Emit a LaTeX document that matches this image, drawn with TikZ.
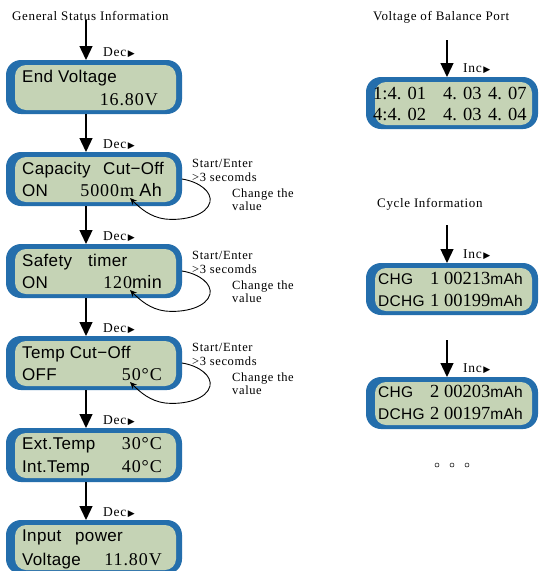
\documentclass[tikz,border=0pt]{standalone}
\usepackage{fontspec}
\setmainfont{Liberation Serif}
\newfontfamily\lser[LetterSpace=5]{Liberation Serif}
\newfontfamily\rser{Liberation Serif}
\newfontfamily\lsan[LetterSpace=2]{Liberation Sans}
\newfontfamily\lsym{DejaVu Sans}
\usetikzlibrary{arrows.meta}
\definecolor{lcdblue}{RGB}{36,110,172}
\definecolor{lcdgreen}{RGB}{197,211,181}
\newcommand\tri{{\lsym\fontsize{9}{9}\selectfont\,▶}}
\newcommand\lcdbox[5]{%
  \node[lcdouter, minimum width=#4pt, minimum height=#5pt, anchor=north west] (#1) at (#2,#3) {};
  \fill[lcdgreen, rounded corners=11pt] ([xshift=9pt,yshift=-5pt]#1.north west) rectangle ([xshift=-6pt,yshift=4pt]#1.south east);
}
\newcommand\loopfor[2]{%
  \coordinate (#1e) at (130,#2+46);
  \draw[loopline] (#1.east) .. controls (200,#2+30) and (212,#2+40) .. (210,#2+50)
     .. controls (207,#2+63) and (185,#2+69) .. (165,#2+67)
     .. controls (150,#2+65) and (140,#2+56) .. (#1e);
  \node[note] (#1n1) at (192,#2+15) {Start/Enter};
  \node[note] (#1n2) at (192,#2+29) {>3 secomds};
  \node[note] (#1n3) at (232,#2+45) {Change the};
  \node[note] (#1n4) at (232,#2+58) {value};
}
\begin{document}
\begin{tikzpicture}[x=1pt,y=-1pt,
  lcdouter/.style={fill=lcdblue, rounded corners=15pt, inner sep=0pt, outer sep=0pt},
  flow/.style={line width=1.3pt, -{Triangle[width=13pt,length=14pt]}},
  loopline/.style={line width=0.9pt, -{Stealth[width=6pt,length=7pt]}},
  title/.style={font=\lser\fontsize{13}{15}\selectfont, anchor=base west, inner sep=0pt},
  tag/.style={font=\lser\fontsize{13.5}{15}\selectfont, anchor=base west, inner sep=0pt},
  lab/.style={font=\lsan\fontsize{17}{20}\selectfont, anchor=base west, inner sep=0pt},
  num/.style={font=\lser\fontsize{18}{20}\selectfont, anchor=base east, inner sep=0pt},
  rnum/.style={font=\rser\fontsize{18.5}{21}\selectfont, anchor=base west, inner sep=0pt},
  rlab/.style={font=\lsan\fontsize{15.5}{18}\selectfont, anchor=base west, inner sep=0pt},
  note/.style={font=\lser\fontsize{12.5}{14}\selectfont, anchor=base west, inner sep=0pt},
  dot/.style={circle, draw, line width=0.5pt, inner sep=0pt, minimum size=4pt}]
\clip (0,0) rectangle (539,571);
\fill[white] (0,0) rectangle (539,571);

% ---------- left column ----------
\node[title] (gt) at (12,20) {General Status Information};

\lcdbox{b1}{6}{60}{176}{54}
\lcdbox{b2}{6}{152}{176}{54}
\lcdbox{b3}{6}{244}{176}{54}
\lcdbox{b4}{6}{336}{176}{54}
\lcdbox{b5}{6}{428}{176}{54}
\lcdbox{b6}{6}{520}{176}{54}

\foreach \b in {b1,b2,b3,b4,b5,b6}{
  \coordinate (\b a) at ([xshift=-8pt]\b.north);
  \coordinate (\b z) at ([xshift=-8pt]\b.south);
}
\draw[flow] (gt.south -| b1a) -- (b1a);
\draw[flow] (b1z) -- (b2a);
\draw[flow] (b2z) -- (b3a);
\draw[flow] (b3z) -- (b4a);
\draw[flow] (b4z) -- (b5a);
\draw[flow] (b5z) -- (b6a);

\node[tag] (d1) at (103,56) {Dec\tri};
\node[tag] (d2) at (103,148) {Dec\tri};
\node[tag] (d3) at (103,240) {Dec\tri};
\node[tag] (d4) at (103,332) {Dec\tri};
\node[tag] (d5) at (103,424) {Dec\tri};
\node[tag] (d6) at (103,516) {Dec\tri};

% box texts
\node[lab] (b1l1) at (22,82) {End Voltage};
\node[num] (b1l2) at (158,105) {16.80V};

\node[lab] (b2l1) at (22,174) {Capacity};
\node[lab] (b2l1b) at (103,174) {Cut−Off};
\node[lab] (b2l2) at (22,196) {ON};
\node[num] (b2l2b) at (162,196) {5000m {\lsan Ah}};

\node[lab] (b3l1) at (22,266) {Safety};
\node[lab] (b3l1b) at (88,266) {timer};
\node[lab] (b3l2) at (22,288) {ON};
\node[num] (b3l2b) at (162,288) {120{\lsan min}};

\node[lab] (b4l1) at (22,358) {Temp Cut−Off};
\node[lab] (b4l2) at (22,380) {OFF};
\node[num] (b4l2b) at (162,380) {50°C};

\node[lab] (b5l1) at (22,449) {Ext.Temp};
\node[num] (b5l1b) at (162,449) {30°C};
\node[lab] (b5l2) at (22,472) {Int.Temp};
\node[num] (b5l2b) at (162,472) {40°C};

\node[lab] (b6l1) at (22,541) {Input};
\node[lab] (b6l1b) at (75,541) {power};
\node[lab] (b6l2) at (22,565) {Voltage};
\node[num] (b6l2b) at (162,565) {11.80V};

% loops
\loopfor{b2}{152}
\loopfor{b3}{244}
\loopfor{b4}{336}

% ---------- right column ----------
\node[title] (vt) at (373,20) {Voltage of Balance Port};
\node[title] (ct) at (377,207) {Cycle Information};

\lcdbox{r1}{366}{77}{172}{52}
\lcdbox{r2}{366}{263}{172}{52}
\lcdbox{r3}{366}{377}{172}{52}

\coordinate (r1s) at (447,40);
\coordinate (r2s) at (447,225);
\coordinate (r3s) at (447,340);
\draw[flow] (r1s) -- (r1s |- r1.north);
\draw[flow] (r2s) -- (r2s |- r2.north);
\draw[flow] (r3s) -- (r3s |- r3.north);

\node[tag] (i1) at (463,72) {Inc\tri};
\node[tag] (i2) at (463,258) {Inc\tri};
\node[tag] (i3) at (463,372) {Inc\tri};

\node[rnum] (r1a) at (373,99) {1:4. 01};
\node[rnum] (r1b) at (443,99) {4. 03};
\node[rnum] (r1c) at (488,99) {4. 07};
\node[rnum] (r1d) at (373,120) {4:4. 02};
\node[rnum] (r1e) at (443,120) {4. 03};
\node[rnum] (r1f) at (488,120) {4. 04};

\node[rlab] (r2a) at (378,284) {CHG};
\node[rnum, anchor=base east] (r2b) at (523,284) {1 00213{\lsan\fontsize{15.5}{18}\selectfont mAh}};
\node[rlab] (r2c) at (378,306) {DCHG};
\node[rnum, anchor=base east] (r2d) at (523,306) {1 00199{\lsan\fontsize{15.5}{18}\selectfont mAh}};

\node[rlab] (r3a) at (378,397) {CHG};
\node[rnum, anchor=base east] (r3b) at (523,397) {2 00203{\lsan\fontsize{15.5}{18}\selectfont mAh}};
\node[rlab] (r3c) at (378,419) {DCHG};
\node[rnum, anchor=base east] (r3d) at (523,419) {2 00197{\lsan\fontsize{15.5}{18}\selectfont mAh}};

\node[dot] (o1) at (437,465) {};
\node[dot] (o2) at (452,465) {};
\node[dot] (o3) at (467,465) {};
\end{tikzpicture}
\end{document}
